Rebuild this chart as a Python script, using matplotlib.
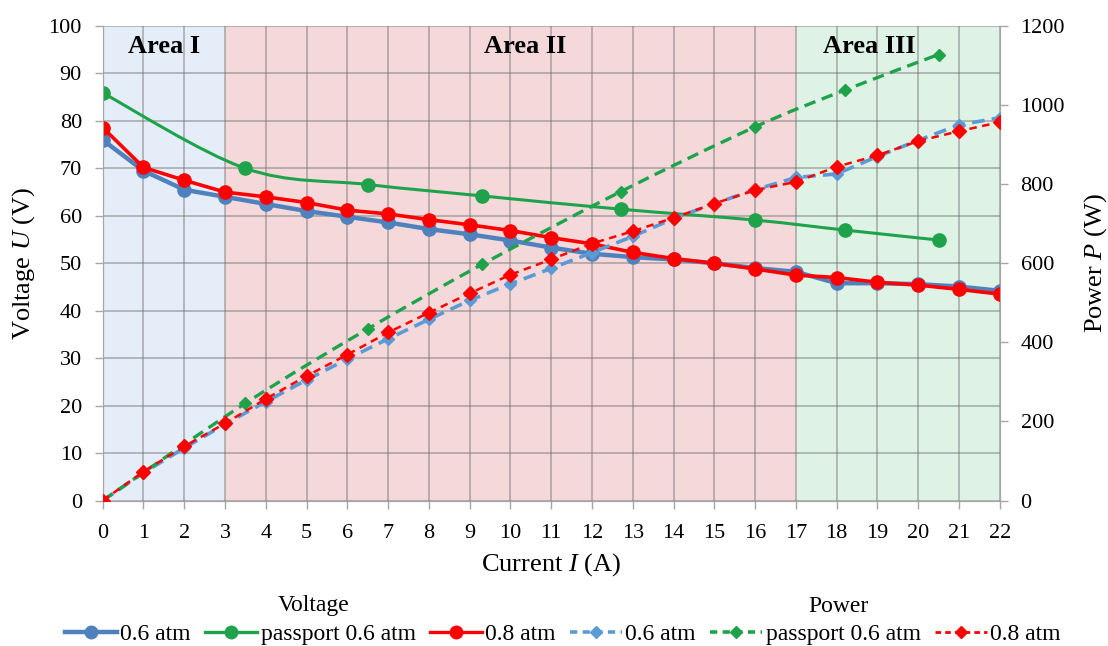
import matplotlib
matplotlib.use("Agg")
from matplotlib import pyplot, patches
from matplotlib.path import Path
from matplotlib.lines import Line2D

pyplot.rcParams['font.family'] = ['Liberation Serif', 'DejaVu Serif']
pyplot.rcParams['mathtext.fontset'] = 'custom'
pyplot.rcParams['mathtext.rm'] = 'Liberation Serif'
pyplot.rcParams['mathtext.it'] = 'Liberation Serif:italic'

# measured data
current = list(range(23))
u_06 = [76.0, 69.5, 65.5, 64.0, 62.5, 61.0, 59.8, 58.6, 57.2, 56.1, 54.8, 53.3,
        52.0, 51.3, 50.8, 50.0, 49.0, 48.2, 45.8, 45.8, 45.6, 45.1, 44.2]
u_08 = [78.6, 70.2, 67.5, 65.0, 64.0, 62.8, 61.2, 60.4, 59.2, 58.1, 56.9, 55.4,
        54.1, 52.3, 51.0, 50.0, 48.8, 47.5, 47.0, 46.0, 45.4, 44.5, 43.5]
p_06 = [0, 70, 133, 193, 250, 305, 358, 409, 458, 506, 548, 587,
        627, 668, 713, 751, 786, 817, 826, 870, 911, 950, 968]
p_08 = [0, 73, 137, 195, 257, 315, 369, 425, 475, 524, 571, 610,
        650, 681, 715, 751, 785, 806, 844, 873, 909, 934, 957]

# passport curve
current_pass = [0, 3.5, 6.5, 9.3, 12.7, 16.0, 18.2, 20.5]
u_pass = [85.9, 70.0, 66.6, 64.2, 61.4, 59.1, 57.0, 54.9]
p_pass = [0, 246, 434, 597, 781, 945, 1038, 1128]

# operating areas
area_bounds = [0, 3, 17, 22]
area_names = ["Area I", "Area II", "Area III"]
area_colours = ["#e4edf8", "#f5d9da", "#def3e6"]

BLUE = "#4f81bd"
BLUE_LIGHT = "#5b9bd5"
GREEN = "#1ea34b"
RED = "#ff0000"


def smooth_path(xs, ys):
    """Excel-like smoothed line as cubic bezier segments"""
    pts = list(zip(xs, ys))
    verts = [pts[0]]
    codes = [Path.MOVETO]
    for i in range(len(pts) - 1):
        p0 = pts[i - 1] if i > 0 else pts[i]
        p1 = pts[i]
        p2 = pts[i + 1]
        p3 = pts[i + 2] if i + 2 < len(pts) else pts[i + 1]
        c1 = (p1[0] + (p2[0] - p0[0]) / 6, p1[1] + (p2[1] - p0[1]) / 6)
        c2 = (p2[0] - (p3[0] - p1[0]) / 6, p2[1] - (p3[1] - p1[1]) / 6)
        verts += [c1, c2, p2]
        codes += [Path.CURVE4] * 3
    return Path(verts, codes)


fig = pyplot.figure(figsize=(11.08, 6.46), dpi=100)
ax = fig.add_axes([0.0927, 0.2252, 0.8096, 0.7345])
ax2 = ax.twinx()

# background areas, labels sit a little off centre like in the original
label_shift = [0.0, 0.35, -0.7]
for (x0, x1), name, colour, shift in zip(zip(area_bounds, area_bounds[1:]), area_names,
                                         area_colours, label_shift):
    ax.axvspan(x0, x1, color=colour, zorder=0, lw=0)
    ax.text((x0 + x1) / 2 + shift, 95.7, name, ha="center", va="center", fontsize=19,
            fontweight="bold", zorder=5)

ax.set_xlim(0, 22)
ax.set_ylim(0, 100)
ax2.set_ylim(0, 1200)
ax.set_xticks(range(0, 23))
ax.set_yticks(range(0, 101, 10))
ax2.set_yticks(range(0, 1201, 200))
ax.grid(True, color="#6e6e6e", alpha=0.55, lw=1.1, zorder=1)
ax.set_axisbelow(True)

for a in (ax, ax2):
    for s in a.spines.values():
        s.set_color("#a6a6a6")
    a.spines["top"].set_visible(False)
    a.tick_params(labelsize=16, length=6, color="#a6a6a6", width=1, pad=9)
ax.tick_params(axis="x", pad=11)

# voltage curves
ax.plot(current, u_06, "-o", color=BLUE, lw=3.2, ms=9.5, zorder=3)
ax.plot(current, u_08, "-o", color=RED, lw=2.6, ms=9.5, zorder=4)
ax.add_patch(patches.PathPatch(smooth_path(current_pass, u_pass), fill=False,
                               edgecolor=GREEN, lw=2.2, zorder=3))
ax.plot(current_pass, u_pass, "o", color=GREEN, ms=9.5, zorder=3)

# power curves
ax2.plot(current, p_06, "--D", color=BLUE_LIGHT, lw=2.6, ms=6.5, dashes=(3.5, 2), zorder=3)
ax2.add_patch(patches.PathPatch(smooth_path(current_pass, p_pass), fill=False,
                                edgecolor=GREEN, lw=2.4, ls=(0, (3.5, 2)), zorder=3))
ax2.plot(current_pass, p_pass, "D", color=GREEN, ms=6.5, zorder=3)
ax2.plot(current, p_08, "--D", color=RED, lw=1.8, ms=7, dashes=(3, 2.2), zorder=4)

ax.set_xlabel("Current $I$ (A)", fontsize=19, labelpad=6)
ax.set_ylabel("Voltage $U$ (V)", fontsize=19, labelpad=8)
ax2.set_ylabel("Power $P$ (W)", fontsize=19, labelpad=12)

# legend
handles = [
    Line2D([], [], color=BLUE, lw=3.2, marker="o", ms=9),
    Line2D([], [], color=GREEN, lw=2.4, marker="o", ms=9),
    Line2D([], [], color=RED, lw=2.4, marker="o", ms=9),
    Line2D([], [], color=BLUE_LIGHT, lw=2.6, marker="D", ms=6, dashes=(2, 1.5)),
    Line2D([], [], color=GREEN, lw=2.6, marker="D", ms=6, dashes=(2, 1.5)),
    Line2D([], [], color=RED, lw=2.0, marker="D", ms=6, dashes=(2, 1.5)),
]
labels = ["0.6 atm", "passport 0.6 atm", "0.8 atm", "0.6 atm", "passport 0.6 atm", "0.8 atm"]
fig.legend(handles, labels, loc="center", bbox_to_anchor=(0.508, 1 - 634 / 646), ncol=6,
           frameon=False, fontsize=17, handlelength=2.2, handletextpad=0.15,
           columnspacing=0.6, numpoints=1)
fig.text(314 / 1108, 1 - 606 / 646, "Voltage", ha="center", va="center", fontsize=17)
fig.text(838 / 1108, 1 - 606 / 646, "Power", ha="center", va="center", fontsize=17)

fig.savefig("out.png", dpi=100)
